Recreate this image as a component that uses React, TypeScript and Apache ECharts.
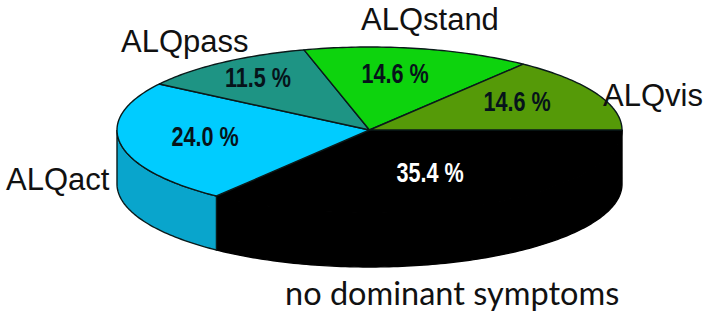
import React, { useEffect, useRef } from "react";
import * as echarts from "echarts";

const sliceNames = ["no dominant symptoms", "ALQact", "ALQpass", "ALQstand", "ALQvis"];
const sliceValues = [35.4, 24.0, 11.5, 14.6, 14.6];

const topColors = ["#000000", "#00CCFF", "#1E9484", "#0DD30D", "#559A08"];
const sideColors = ["#000000", "#09A5CC", "#187868", "#0AA80A", "#447A06"];
const edgeColors = ["#000000", "#0A1A1A", "#0A1A1A", "#0A1A1A", "#0A1A1A"];

const CX = 369.5, CY = 130, RX = 252.5, RY = 83, DEPTH = 54;

// left, middle positions of the texts, in pixels
const nameLayout = [
  { x: 285, y: 292, font: "Lato", size: 32.5, color: "#111111" },
  { x: 6, y: 179, font: "Liberation Sans", size: 31, color: "#111111" },
  { x: 121, y: 41, font: "Liberation Sans", size: 31, color: "#111111" },
  { x: 361, y: 19, font: "Liberation Sans", size: 31, color: "#111111" },
  { x: 603, y: 95, font: "Liberation Sans", size: 31, color: "#111111" },
];
const percentLayout = [
  { x: 430, y: 173, color: "#FFFFFF" },
  { x: 205, y: 137, color: "#06131A" },
  { x: 258, y: 78, color: "#06131A" },
  { x: 395, y: 74, color: "#06131A" },
  { x: 517, y: 102, color: "#06131A" },
];

const total = sliceValues.reduce((a, b) => a + b, 0);

function ell(t: number, dy = 0): number[] {
  return [CX + RX * Math.cos(t), CY + RY * Math.sin(t) + dy];
}

function arc(a0: number, a1: number, dy = 0): number[][] {
  const n = Math.max(2, Math.ceil((a1 - a0) / (Math.PI / 180)));
  const pts: number[][] = [];
  for (let i = 0; i <= n; i++) pts.push(ell(a0 + ((a1 - a0) * i) / n, dy));
  return pts;
}

function startAngle(index: number): number {
  let sum = 0;
  for (let i = 0; i < index; i++) sum += sliceValues[i];
  return (sum / total) * Math.PI * 2;
}

export default function App() {
  const ref = useRef<HTMLDivElement>(null);
  useEffect(() => {
    document.body.style.margin = "0";
    const chart = echarts.init(ref.current!, undefined, { renderer: "svg" });

    const sideSeries = {
      type: "custom",
      coordinateSystem: "none",
      silent: true,
      z: 1,
      data: sliceValues.map((v) => [v]),
      renderItem: (params: any, api: any) => {
        const i = params.dataIndex;
        const a0 = startAngle(i);
        const a1 = a0 + (api.value(0) / total) * Math.PI * 2;
        const s0 = Math.min(a0, Math.PI);
        const s1 = Math.min(a1, Math.PI);
        if (s1 <= s0) return { type: "group", children: [] };
        const pts = [...arc(s0, s1, 0), ...arc(s0, s1, DEPTH).reverse()];
        return {
          type: "polygon",
          shape: { points: pts },
          style: { fill: sideColors[i], stroke: edgeColors[i], lineWidth: 1.4 },
        };
      },
    };

    const topSeries = {
      type: "custom",
      coordinateSystem: "none",
      silent: true,
      z: 2,
      data: sliceValues.map((v) => [v]),
      renderItem: (params: any, api: any) => {
        const i = params.dataIndex;
        const a0 = startAngle(i);
        const a1 = a0 + (api.value(0) / total) * Math.PI * 2;
        return {
          type: "polygon",
          shape: { points: [[CX, CY], ...arc(a0, a1)] },
          style: { fill: topColors[i], stroke: edgeColors[i], lineWidth: 1.4, lineJoin: "round" },
        };
      },
    };

    const nameTexts = sliceNames.map((name, i) => ({
      type: "text",
      x: nameLayout[i].x,
      y: nameLayout[i].y,
      z: 100,
      silent: true,
      style: {
        text: name,
        fontFamily: nameLayout[i].font,
        fontSize: nameLayout[i].size,
        fill: nameLayout[i].color,
        textAlign: "left",
        textVerticalAlign: "middle",
      },
    }));
    const percentTexts = sliceValues.map((v, i) => ({
      type: "text",
      x: percentLayout[i].x,
      y: percentLayout[i].y,
      z: 100,
      silent: true,
      scaleX: 0.8,
      style: {
        text: `${v.toFixed(1)} %`,
        fontFamily: "Liberation Sans",
        fontWeight: "bold",
        fontSize: 27,
        fill: percentLayout[i].color,
        textAlign: "center",
        textVerticalAlign: "middle",
      },
    }));

    chart.setOption({
      animation: false,
      backgroundColor: "#FFFFFF",
      series: [sideSeries, topSeries],
      graphic: [...nameTexts, ...percentTexts],
    });
    return () => chart.dispose();
  }, []);
  return <div ref={ref} style={{ width: 709, height: 317 }} />;
}
